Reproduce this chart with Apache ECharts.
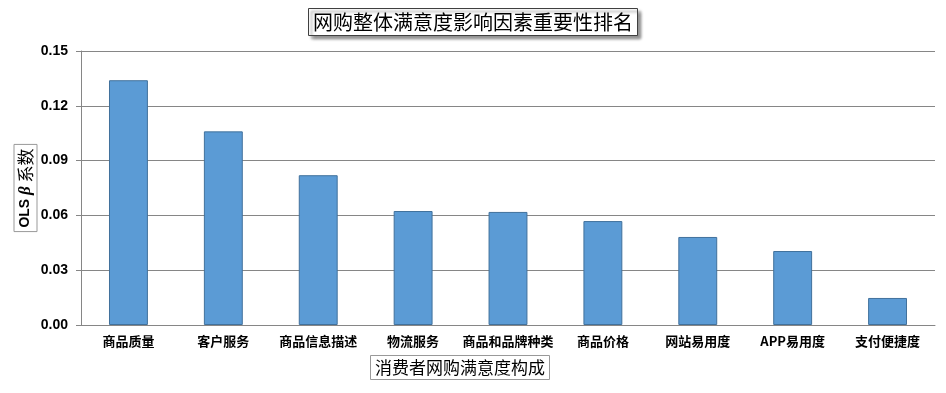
<!DOCTYPE html>
<html><head><meta charset="utf-8">
<script src="https://cdn.jsdelivr.net/npm/echarts@6/dist/echarts.min.js"></script>
<style>html,body{margin:0;padding:0;background:#fff}#c{width:946px;height:393px}</style>
</head><body><div id="c"></div>
<script>
const categories = ['商品质量','客户服务','商品信息描述','物流服务','商品和品牌种类','商品价格','网站易用度','APP易用度','支付便捷度'];
const values = [0.134, 0.106, 0.082, 0.0624, 0.0619, 0.0569, 0.0482, 0.0405, 0.0148];
const yTicks = [0, 0.03, 0.06, 0.09, 0.12, 0.15];
const titleText = '网购整体满意度影响因素重要性排名';
const xName = '消费者网购满意度构成';

const chart = echarts.init(document.getElementById('c'));
const axisGray = '#868686';
chart.setOption({
  animation: false,
  title: [{
    text: titleText,
    left: 'center', top: 8,
    padding: [4, 5, 4, 5],
    borderColor: '#404040', borderWidth: 1,
    backgroundColor: '#fff',
    shadowColor: 'rgba(0,0,0,0.45)', shadowBlur: 3, shadowOffsetX: 3, shadowOffsetY: 3,
    textStyle: { fontFamily: 'Noto Sans CJK SC', fontSize: 20, fontWeight: 'normal', color: '#000' }
  }, {
    text: xName,
    left: 370, top: 355,
    padding: [4, 5, 4, 5],
    borderColor: '#999', borderWidth: 1,
    textStyle: { fontFamily: 'Noto Sans CJK SC', fontSize: 17, fontWeight: 'normal', color: '#000' }
  }],
  grid: { left: 81, right: 11, top: 51, bottom: 68, containLabel: false, outerBoundsMode: 'none' },
  xAxis: [{
    type: 'category', data: categories,
    axisLine: { lineStyle: { color: axisGray } },
    axisTick: { alignWithLabel: true, length: 5, lineStyle: { color: axisGray } },
    axisLabel: { interval: 0, margin: 10, fontFamily: 'Noto Sans CJK SC', fontSize: 13, fontWeight: 'bold', color: '#000' }
  }],
  yAxis: {
    type: 'value', min: 0, max: 0.15, interval: 0.03,
    axisLine: { show: true, lineStyle: { color: axisGray } },
    axisTick: { show: true, length: 5, lineStyle: { color: axisGray } },
    splitLine: { lineStyle: { color: axisGray, width: 1 } },
    axisLabel: { margin: 13, fontFamily: 'Liberation Sans', fontSize: 14, fontWeight: 'bold', color: '#000',
      formatter: v => v.toFixed(2) },
    name: '{b|OLS }{i|β}{n| 系数}', nameLocation: 'middle', nameRotate: 90, nameGap: 44,
    nameMoveOverlap: false,
    nameTextStyle: {
      borderColor: '#999', borderWidth: 1, padding: [3, 4, 3, 4], color: '#000',
      rich: {
        b: { fontFamily: 'Liberation Sans', fontWeight: 'bold', fontSize: 14, color: '#000' },
        i: { fontFamily: 'Liberation Serif', fontStyle: 'italic', fontWeight: 'bold', fontSize: 17, color: '#000' },
        n: { fontFamily: 'Noto Sans CJK SC', fontSize: 17, color: '#000' }
      }
    }
  },
  series: [{
    type: 'bar', data: values, barWidth: '41%',
    itemStyle: { color: '#5B9BD5', borderColor: '#41719C', borderWidth: 1 }
  }]
});
</script></body></html>
